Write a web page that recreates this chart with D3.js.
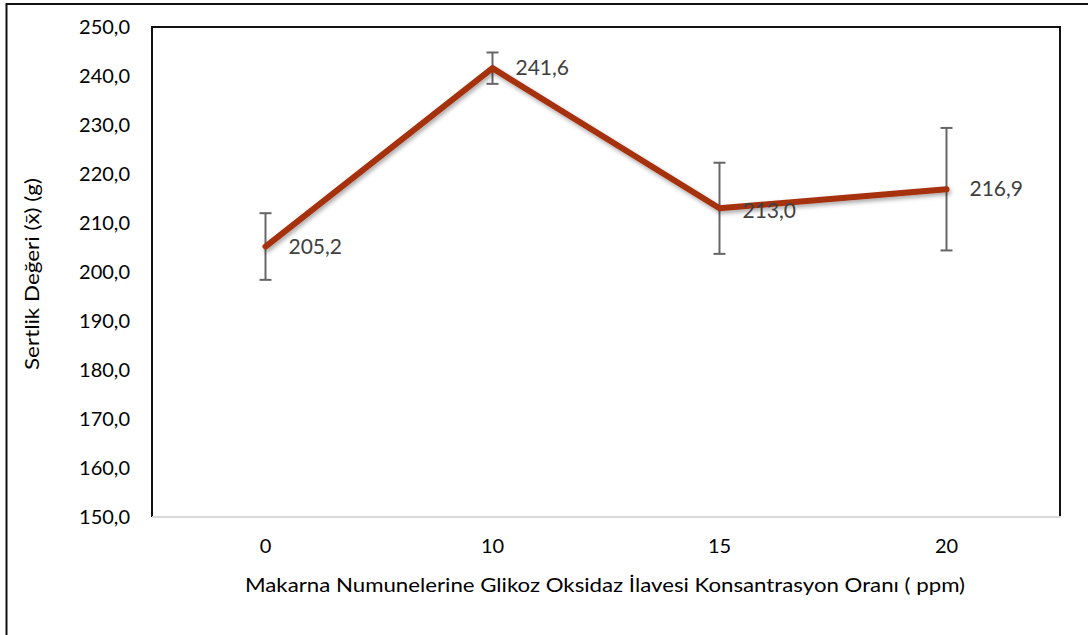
<!DOCTYPE html>
<html><head><meta charset="utf-8">
<script src="https://cdn.jsdelivr.net/npm/d3@7"></script>
<style>body{margin:0;background:#fff}svg{display:block}text{font-family:Lato,"Open Sans",sans-serif}</style>
</head><body>
<svg id="c" width="1088" height="635"></svg>
<script>
const categories = ["0","10","15","20"];
const values = [205.2, 241.6, 213.0, 216.9];
const errors = [6.8, 3.2, 9.3, 12.5];
const labels = ["205,2","241,6","213,0","216,9"];
const yTicks = [150,160,170,180,190,200,210,220,230,240,250];

const svg = d3.select("#c");
const L=152, T=27, R=1060, B=517;
const x = d3.scaleBand().domain(categories).range([L,R]);
const y = d3.scaleLinear().domain([150,250]).range([B,T]);

// outer frame
svg.append("path").attr("d","M6.5,640 V4 H1090").attr("fill","none").attr("stroke","#111").attr("stroke-width",2);

// plot frame
svg.append("path").attr("d",`M${L},${B} V${T} H${R} V${B}`).attr("fill","none").attr("stroke","#111").attr("stroke-width",2);
svg.append("line").attr("x1",L).attr("x2",R+1).attr("y1",B).attr("y2",B).attr("stroke","#d9d9d9").attr("stroke-width",2);

// y axis labels
const ya = svg.append("g").attr("transform",`translate(${L},0)`)
  .call(d3.axisLeft(y).tickValues(yTicks).tickSize(0).tickPadding(22).tickFormat(d=>d3.format(".1f")(d).replace(".",",")));
ya.select(".domain").remove();
ya.selectAll("text").attr("font-size",20).attr("fill","#000").style("font-family","Lato,'Open Sans',sans-serif");

// x axis labels
const xa = svg.append("g").attr("transform",`translate(0,${B})`)
  .call(d3.axisBottom(x).tickSize(0).tickPadding(22));
xa.select(".domain").remove();
xa.selectAll("text").attr("font-size",20).attr("fill","#000").style("font-family","Lato,'Open Sans',sans-serif");

// titles
svg.append("text").attr("x",(L+R)/2-1).attr("y",592).attr("text-anchor","middle")
  .attr("font-size",20).attr("fill","#000").attr("textLength",720).attr("lengthAdjust","spacingAndGlyphs")
  .text("Makarna Numunelerine Glikoz Oksidaz İlavesi Konsantrasyon Oranı ( ppm)");
svg.append("text").attr("transform",`translate(39,${(T+B)/2+2}) rotate(-90)`).attr("text-anchor","middle")
  .attr("font-size",19).attr("fill","#000").attr("textLength",192).attr("lengthAdjust","spacingAndGlyphs")
  .text("Sertlik Değeri (x̄) (g)");

// shadow filter
const defs = svg.append("defs");
const f = defs.append("filter").attr("id","sh").attr("x","-10%").attr("y","-10%").attr("width","120%").attr("height","130%");
f.append("feDropShadow").attr("dx",1.5).attr("dy",2.5).attr("stdDeviation",2).attr("flood-color","#000").attr("flood-opacity",0.35);

const cx = d => x(d)+x.bandwidth()/2;
const data = categories.map((c,i)=>({c, v:values[i], e:errors[i], l:labels[i]}));

// error bars
const eb = svg.append("g").attr("stroke","#666").attr("stroke-width",2);
data.forEach(d=>{
  eb.append("line").attr("x1",cx(d.c)).attr("x2",cx(d.c)).attr("y1",y(d.v+d.e)).attr("y2",y(d.v-d.e));
  [d.v+d.e, d.v-d.e].forEach(t=>eb.append("line").attr("x1",cx(d.c)-6).attr("x2",cx(d.c)+6).attr("y1",y(t)).attr("y2",y(t)));
});

// line
svg.append("path").datum(data).attr("fill","none").attr("stroke","#a5300f").attr("stroke-width",6)
  .attr("stroke-linecap","round").attr("stroke-linejoin","round").attr("filter","url(#sh)")
  .attr("d",d3.line().x(d=>cx(d.c)).y(d=>y(d.v)));

// data labels
svg.append("g").selectAll("text").data(data).join("text")
  .attr("x",d=>cx(d.c)+23).attr("y",d=>y(d.v)+7+(d.c==="15"?3:0)).attr("font-size",21).attr("fill","#404040")
  .text(d=>d.l);
</script>
</body></html>
